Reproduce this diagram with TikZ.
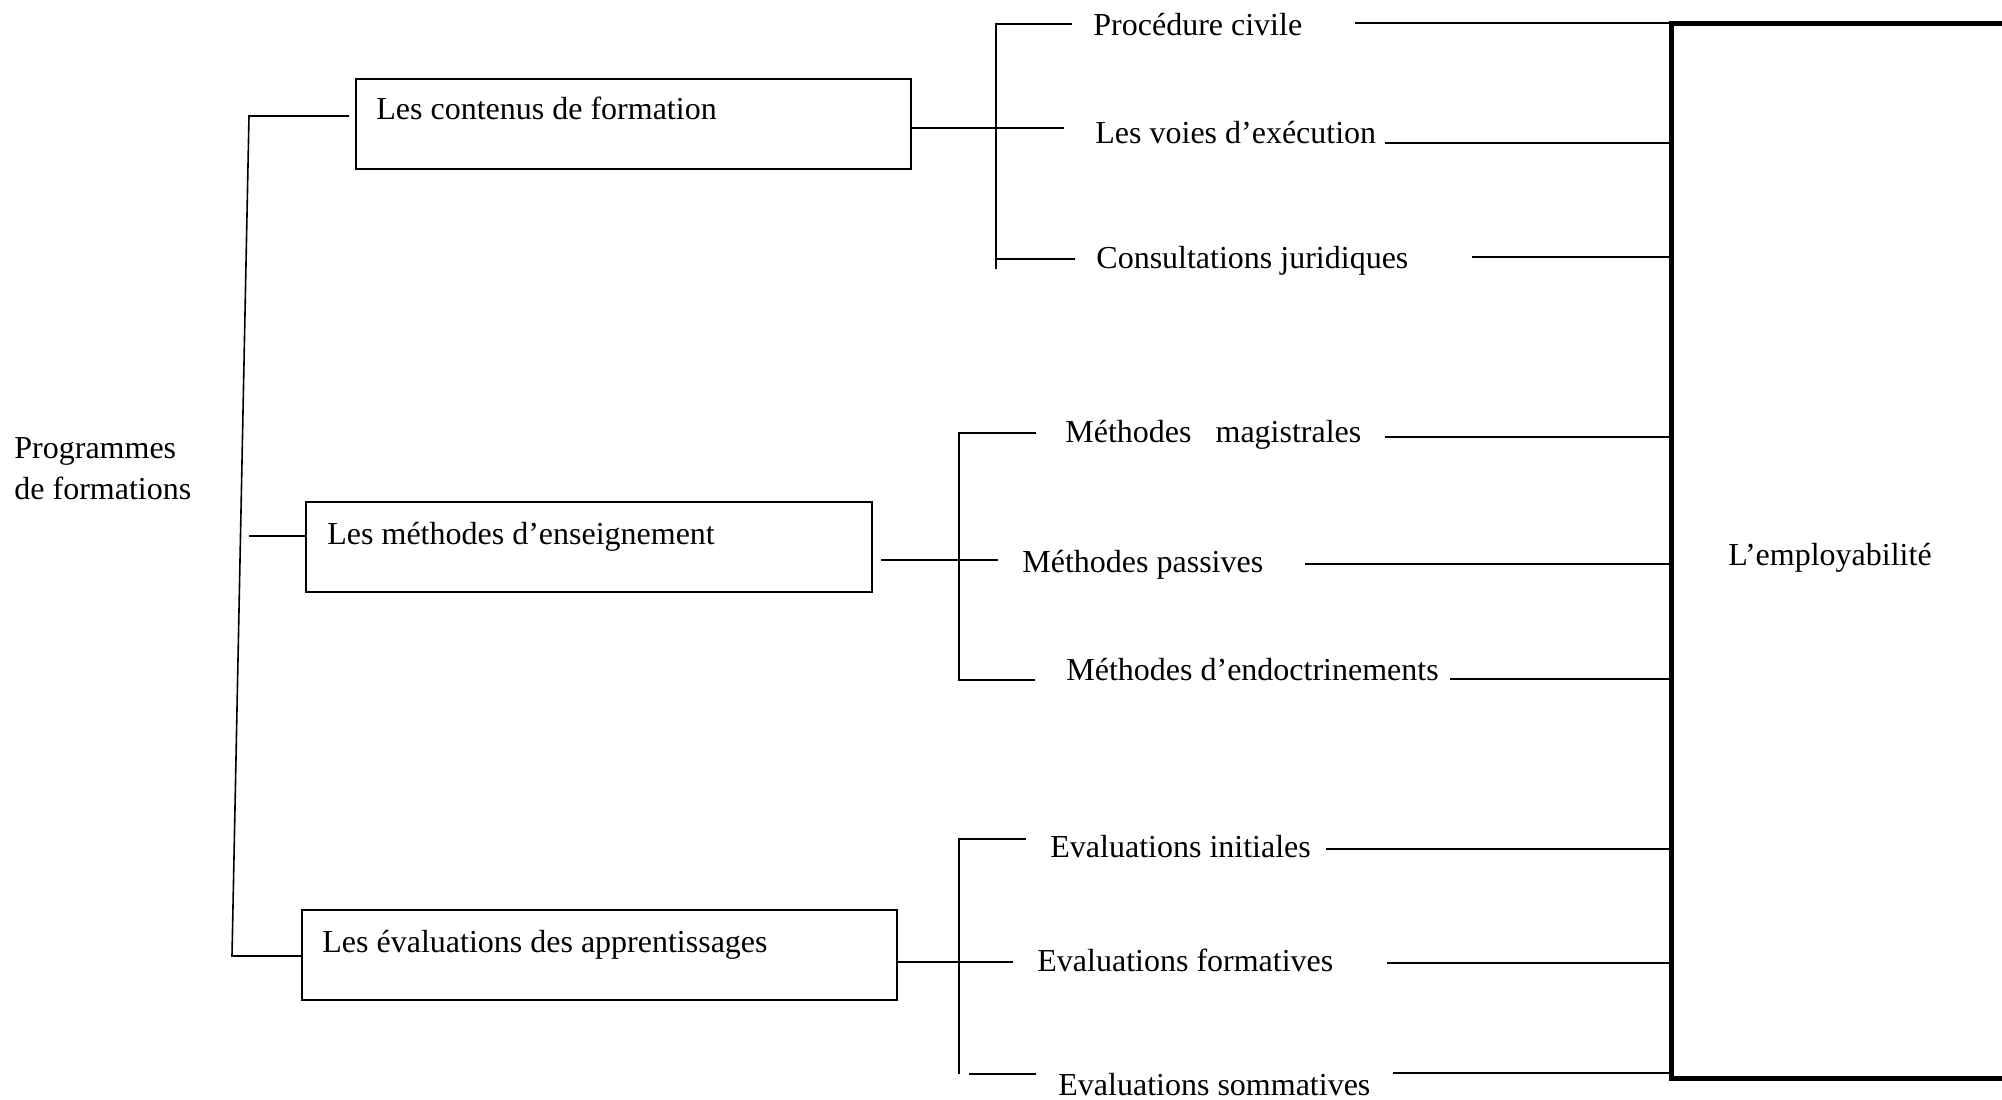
\documentclass[tikz,border=0pt]{standalone}
\usepackage{fontspec}
\setmainfont{Liberation Serif}
\begin{document}
\begin{tikzpicture}[x=0.5pt,y=-0.5pt,
  txt/.style={anchor=base west, inner sep=0pt, yshift=-1.25pt, font=\fontsize{16}{19}\selectfont},
  box/.style={draw, line width=1.1pt, inner sep=0pt, minimum height=45pt},
  thin/.style={line width=0.8pt},
  feed/.style={line width=1.2pt},
  frame/.style={draw, line width=2.5pt, inner sep=0pt}]
\path[use as bounding box, clip] (0,0) rectangle (2002,1099);

% root label
\node[txt] (prog)  at (14,456) {Programmes};
\node[txt] (prog2) at (14,497) {de formations};

% the three component boxes
\node[box, minimum width=277.5pt] (box1) at (633.5,124) {};
\node[box, minimum width=283pt]   (box2) at (589,547)   {};
\node[box, minimum width=297.5pt] (box3) at (599.5,955) {};
\node[txt] (box1t) at (376,117) {Les contenus de formation};
\node[txt] (box2t) at (327,542) {Les méthodes d’enseignement};
\node[txt] (box3t) at (322,950) {Les évaluations des apprentissages};

% outcome frame (runs past the right edge)
\node[frame, minimum width=204.5pt, minimum height=527.5pt] (frame) at (1875.5,550.5) {};
\node[txt] (emp) at (1728,563) {L’employabilité};

% trunk on the left
\draw[thin] (349,116) -- (249,116) -- (232,956) -- (box3.west |- 0,956);
\draw[thin] (249,536) -- (box2.west |- 0,536);

% bracket: contents
\draw[thin] (1072,24) -- (996,24) -- (996,269);
\draw[thin] (box1.east |- 0,128) -- (1064,128);
\draw[thin] (996,259) -- (1075,259);
\node[txt] (pc) at (1093,33)  {Procédure civile};
\node[txt] (ve) at (1095,141) {Les voies d’exécution};
\node[txt] (cj) at (1096,266) {Consultations juridiques};

% bracket: methods
\draw[thin] (1036,433) -- (959,433) -- (959,680) -- (1035,680);
\draw[thin] (881,560) -- (998,560);
\node[txt] (mm) at (1065,440) {Méthodes\hspace{12pt}magistrales};
\node[txt] (mp) at (1022,570) {Méthodes passives};
\node[txt] (me) at (1066,678) {Méthodes d’endoctrinements};

% bracket: evaluations
\draw[thin] (1026,839) -- (959,839) -- (959,1074);
\draw[thin] (box3.east |- 0,962) -- (1013,962);
\draw[thin] (969,1074) -- (1036,1074);
\node[txt] (ei) at (1050,855)  {Evaluations initiales};
\node[txt] (ef) at (1037,969)  {Evaluations formatives};
\node[txt] (es) at (1058,1093) {Evaluations sommatives};

% feeds into the outcome frame
\coordinate (f1) at (1355,23);
\coordinate (f2) at (1385,143);
\coordinate (f3) at (1472,257);
\coordinate (f4) at (1385,437);
\coordinate (f5) at (1305,564);
\coordinate (f6) at (1450,679);
\coordinate (f7) at (1326,849);
\coordinate (f8) at (1387,963);
\coordinate (f9) at (1393,1073);
\foreach \f in {f1,f2,f3,f4,f5,f6,f7,f8,f9}
  \draw[feed] (\f) -- (\f -| frame.west);
\end{tikzpicture}
\end{document}
